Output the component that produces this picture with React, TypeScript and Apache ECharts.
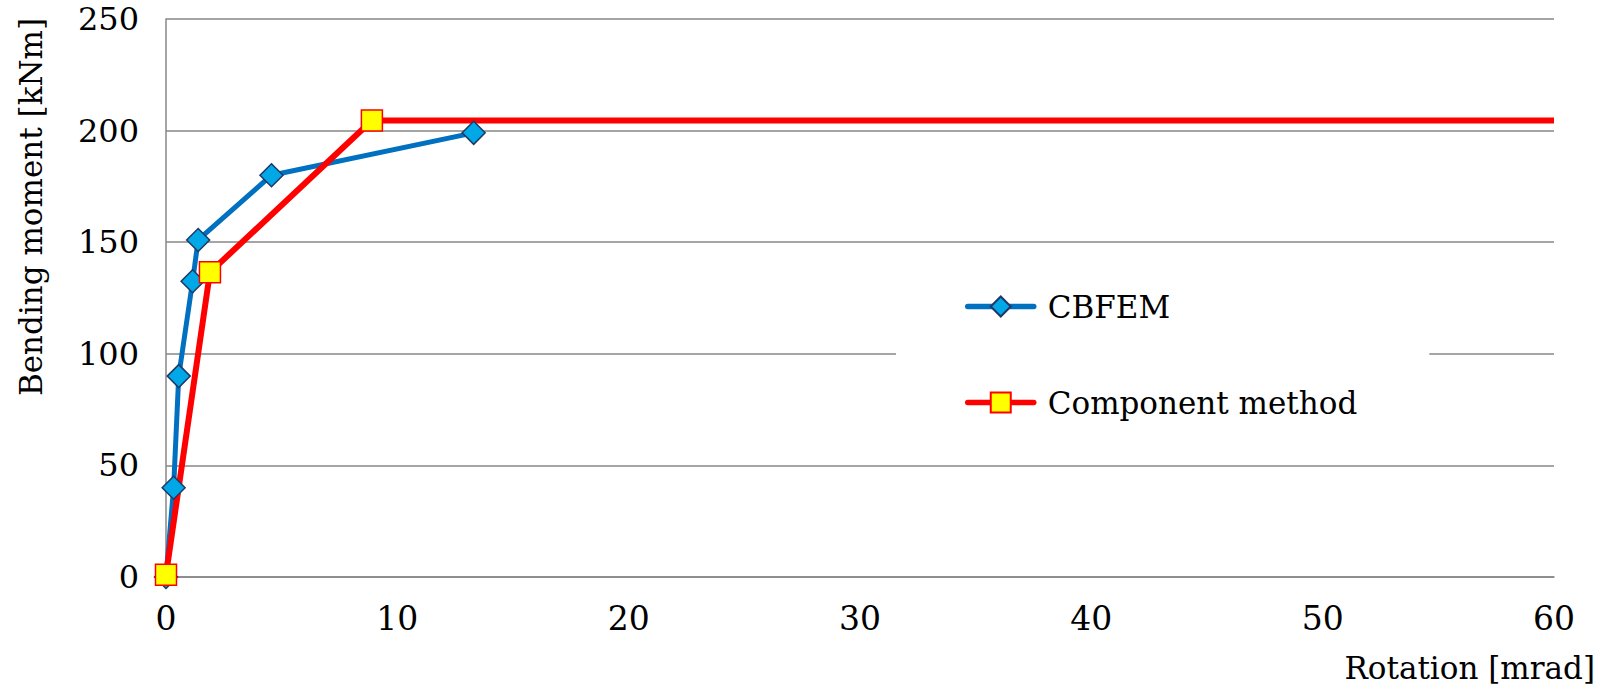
import React, { useEffect, useRef } from "react";
import * as echarts from "echarts";

// ---- data ----
const cbfemRotation = [0, 0.33, 0.55, 1.15, 1.39, 4.56, 13.3];
const cbfemMoment = [0, 40, 90, 132.5, 151, 180, 199];
const componentRotation = [0, 1.9, 8.9, 60];
const componentMoment = [1, 136.5, 204.5, 204.5];
// marker shown at each component-method point (last one is only the line end)
const componentMarked = [true, true, true, false];

const seriesNames = ["CBFEM", "Component method"];
const xAxisTitle = "Rotation [mrad]";
const yAxisTitle = "Bending moment [kNm]";
const xTicks = { min: 0, max: 60, interval: 10 };
const yTicks = { min: 0, max: 250, interval: 50 };

const FONT = "DejaVu Serif";
const GRID_COLOR = "#878787";

export default function App() {
  const ref = useRef<HTMLDivElement>(null);
  useEffect(() => {
    if (!ref.current) return;
    const chart = echarts.init(ref.current, null, { renderer: "svg" });
    const cbfem = cbfemRotation.map((x, i) => [x, cbfemMoment[i]]);
    const comp = componentRotation.map((x, i) =>
      componentMarked[i]
        ? { value: [x, componentMoment[i]] }
        : { value: [x, componentMoment[i]], symbol: "none" }
    );
    chart.setOption({
      animation: false,
      backgroundColor: "#ffffff",
      textStyle: { fontFamily: FONT },
      grid: { left: 166, right: 46, top: 19, bottom: 121 },
      xAxis: {
        type: "value",
        min: xTicks.min,
        max: xTicks.max,
        interval: xTicks.interval,
        axisLine: { show: true, lineStyle: { color: GRID_COLOR, width: 1.5 } },
        axisTick: { show: false },
        splitLine: { show: false },
        axisLabel: { color: "#000", fontSize: 33, lineHeight: 32, fontFamily: FONT, margin: 25 },
      },
      yAxis: {
        type: "value",
        min: yTicks.min,
        max: yTicks.max,
        interval: yTicks.interval,
        axisLine: { show: true, lineStyle: { color: GRID_COLOR, width: 1.5 } },
        axisTick: { show: false },
        splitLine: { show: true, lineStyle: { color: GRID_COLOR, width: 1.5 } },
        axisLabel: { color: "#000", fontSize: 32, lineHeight: 30, fontFamily: FONT, margin: 27 },
      },
      legend: {
        orient: "vertical",
        left: 896,
        top: 271,
        padding: [20, 72, 20, 69],
        backgroundColor: "#ffffff",
        itemWidth: 66,
        itemHeight: 25,
        itemGap: 65,
        lineStyle: { width: 5.5, cap: "round" },
        textStyle: { color: "#000", fontSize: 31, fontFamily: FONT, padding: [0, 0, 0, 9] },
        data: seriesNames,
      },
      graphic: [
        {
          type: "text",
          x: 1595,
          y: 668,
          style: {
            text: xAxisTitle,
            align: "right",
            verticalAlign: "middle",
            fill: "#000",
            fontSize: 31,
            fontFamily: FONT,
          },
        },
        {
          type: "text",
          x: 31,
          y: 207,
          rotation: Math.PI / 2,
          style: {
            text: yAxisTitle,
            align: "center",
            verticalAlign: "middle",
            fill: "#000",
            fontSize: 31,
            fontFamily: FONT,
          },
        },
      ],
      series: [
        {
          name: seriesNames[0],
          type: "line",
          data: cbfem,
          symbol: "diamond",
          symbolSize: 23,
          lineStyle: { color: "#0070C0", width: 5 },
          itemStyle: { color: "#00A8E8", borderColor: "#1F3864", borderWidth: 1.5 },
        },
        {
          name: seriesNames[1],
          type: "line",
          data: comp,
          symbol: "rect",
          symbolSize: 21,
          lineStyle: { color: "#FF0000", width: 6 },
          itemStyle: { color: "#FFFF00", borderColor: "#FF0000", borderWidth: 1.5 },
        },
      ],
    });
    return () => chart.dispose();
  }, []);
  return (
    <div
      ref={ref}
      style={{ position: "fixed", left: 0, top: 0, width: 1600, height: 698 }}
    />
  );
}
